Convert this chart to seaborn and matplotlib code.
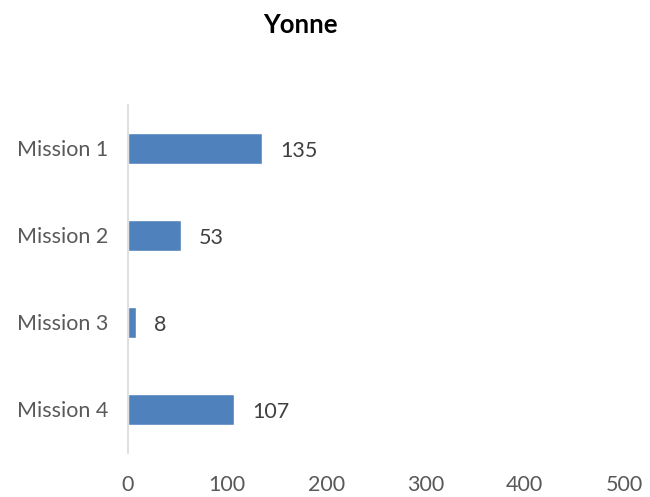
import pandas as pd
import seaborn as sns
import matplotlib.pyplot as plt

sns.set_theme(style="white")
plt.rcParams['font.family'] = ['Lato', 'DejaVu Sans']

missions = ['Mission 1', 'Mission 2', 'Mission 3', 'Mission 4']
values = [135, 53, 8, 107]
xticks = [0, 100, 200, 300, 400, 500]

df = pd.DataFrame({'mission': missions, 'value': values})

fig = plt.figure(figsize=(6.5, 4.97), dpi=100)
ax = fig.add_axes([0.197, 0.0885, 0.763, 0.7005])

sns.barplot(data=df, x='value', y='mission', orient='h', color='#4F81BD',
            saturation=1, width=0.36, ax=ax)

# data labels to the right of each bar
for i, v in enumerate(values):
    ax.annotate(str(v), xy=(v, i), xytext=(13, -2), textcoords='offset points',
                ha='left', va='center', fontsize=15.5, color='#404040')

ax.set_xlim(0, 500)
ax.set_ylim(3.5, -0.5)
ax.set_xticks(xticks)
ax.set_xlabel('')
ax.set_ylabel('')
ax.tick_params(axis='x', length=0, pad=16, labelsize=15.5, labelcolor='#595959')
ax.tick_params(axis='y', length=0, pad=14, labelsize=15.5, labelcolor='#595959')

for s in ['top', 'right', 'bottom']:
    ax.spines[s].set_visible(False)
ax.spines['left'].set_color('#D9D9D9')
ax.spines['left'].set_linewidth(1.2)

fig.text(300 / 650, 1 - 25 / 497, 'Yonne', ha='center', va='center',
         fontsize=18.5, fontweight='bold', color='black')

fig.savefig('out.png', dpi=100)
